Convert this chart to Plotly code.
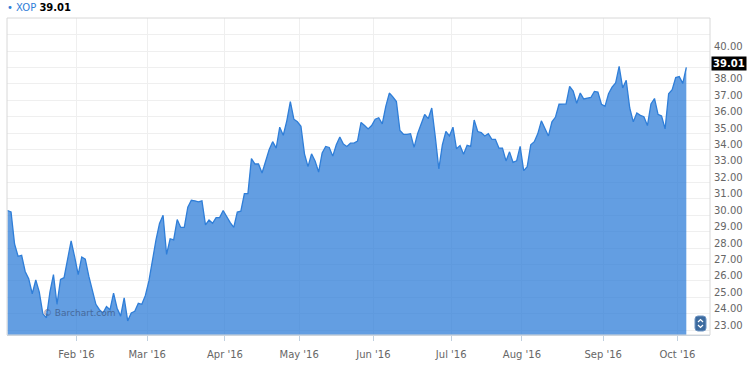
import pandas as pd
import plotly.graph_objects as go

symbol = "XOP"
last_price = 39.01
start_date = "2016-01-04"
end_date = "2016-10-06"
market_holidays = ["2016-01-18", "2016-02-15", "2016-03-25", "2016-05-30", "2016-07-04", "2016-09-05"]

close = [
    30.29, 30.20, 28.25, 27.50, 27.56, 26.58, 26.14, 25.22, 26.06, 25.32,
    24.00, 23.76, 25.32, 26.39, 24.58, 26.10, 26.20, 27.27, 28.44, 27.46,
    26.39, 27.46, 27.33, 26.29, 25.51, 24.58, 24.25, 24.05, 24.44, 24.25,
    25.26, 24.34, 23.86, 24.97, 23.57, 24.05, 24.15, 24.64, 24.58, 25.12,
    26.00, 27.30, 28.50, 29.50, 30.00, 27.62, 28.57, 28.50, 29.74, 29.26,
    29.26, 30.49, 30.91, 30.88, 30.82, 30.88, 29.42, 29.71, 29.51, 29.86,
    29.86, 30.29, 29.90, 29.55, 29.26, 30.19, 30.25, 31.32, 31.32, 33.45,
    33.12, 33.12, 32.57, 33.21, 33.99, 34.48, 34.09, 35.36, 34.87, 35.75,
    36.92, 35.85, 35.69, 35.42, 33.74, 32.96, 33.74, 33.31, 32.63, 33.80,
    34.19, 34.13, 33.60, 34.29, 34.77, 34.33, 34.19, 34.39, 34.39, 34.52,
    35.65, 35.46, 35.26, 35.46, 35.85, 35.94, 35.56, 36.63, 37.44, 37.21,
    36.92, 35.16, 34.93, 34.93, 34.97, 34.13, 34.97, 35.56, 36.14, 35.88,
    36.53, 34.77, 32.82, 34.29, 35.10, 34.83, 35.36, 34.05, 34.24, 33.72,
    34.26, 34.19, 35.80, 35.10, 35.03, 34.83, 34.97, 34.62, 34.62, 34.09,
    34.09, 33.31, 33.86, 33.22, 33.31, 34.19, 32.72, 32.96, 34.29, 34.48,
    34.97, 35.75, 35.30, 34.83, 35.69, 35.98, 36.76, 36.76, 36.78, 37.84,
    37.56, 36.82, 37.44, 37.08, 37.11, 37.17, 37.54, 37.50, 36.76, 36.63,
    37.40, 37.80, 38.05, 39.06, 37.75, 38.22, 36.53, 35.69, 36.23, 36.08,
    36.00, 35.46, 36.78, 37.11, 36.14, 36.04, 35.26, 37.40, 37.64, 38.38,
    38.44, 38.03, 39.01,
]

y_tick_values = list(range(23, 42))
y_tick_hidden = [39, 41]

# trading days (ordinal axis: one slot per session)
dates = [d for d in pd.bdate_range(start_date, end_date)
         if d.strftime("%Y-%m-%d") not in market_holidays]
assert len(dates) == len(close), (len(dates), len(close))
idx = list(range(len(close)))

tick_pos, tick_text = [], []
for i, d in enumerate(dates):
    if i > 0 and d.month != dates[i - 1].month:
        tick_pos.append(i + 0.5)
        tick_text.append(d.strftime("%b '%y"))

y_tick_text = ["" if v in y_tick_hidden else f"{v:.2f}" for v in y_tick_values]

FONT = "DejaVu Sans"
LINE = "#2f7ed8"

fig = go.Figure()
fig.add_trace(go.Scatter(
    x=idx, y=close, mode="lines",
    line=dict(color=LINE, width=1.3),
    fill="tozeroy", fillcolor="rgba(47,126,216,0.75)",
    hoverinfo="skip", showlegend=False,
))

fig.update_layout(
    width=750, height=367, autosize=False,
    margin=dict(l=7, r=38, t=18, b=19),
    paper_bgcolor="white", plot_bgcolor="white",
    showlegend=False,
    xaxis=dict(
        range=[-0.14, 198.7], tickmode="array", tickvals=tick_pos, ticktext=tick_text,
        showgrid=True, gridcolor="#efefef", gridwidth=1, zeroline=False,
        ticks="outside", ticklen=5, tickcolor="#c0d0e0",
        showline=True, linecolor="#c0d0e0", linewidth=1,
        ticklabelstandoff=5,
        tickfont=dict(family=FONT, size=10, color="#666666"),
    ),
    yaxis=dict(
        side="right", range=[22.71, 42.01], tickmode="array",
        tickvals=y_tick_values, ticktext=y_tick_text,
        showgrid=True, gridcolor="#efefef", gridwidth=1, zeroline=False,
        ticks="", showline=False, ticklabelshift=-5, ticklabelstandoff=3,
        tickfont=dict(family=FONT, size=10, color="#666666"),
    ),
)

# plot frame
fig.add_shape(type="rect", xref="paper", yref="paper", x0=0, x1=1, y0=0, y1=1,
              line=dict(color="#d8d8d8", width=1), layer="above")

# legend line
fig.add_annotation(
    xref="paper", yref="paper", x=0, xshift=-2, y=1, yshift=10.5,
    xanchor="left", yanchor="middle", showarrow=False,
    text=f"<span style='color:{LINE}'>\u2022 {symbol}</span> <b>{last_price:.2f}</b>",
    font=dict(family=FONT, size=10, color="#000000"),
)

# last price marker on the axis
fig.add_annotation(
    xref="paper", yref="y", x=1, xshift=1, y=last_price, yshift=4,
    xanchor="left", yanchor="middle", showarrow=False,
    text=f"<b>{last_price:.2f}</b>", bgcolor="#000000", borderpad=1,
    font=dict(family=FONT, size=10, color="#ffffff"),
)

# watermark
fig.add_annotation(
    xref="paper", yref="paper", x=0, xshift=34, y=0, yshift=22,
    xanchor="left", yanchor="middle", showarrow=False,
    text="\u00a9 Barchart.com",
    font=dict(family=FONT, size=9, color="#46699a"),
)

# scroll/zoom control (decoration)
fig.add_shape(
    type="path", xref="x domain", yref="y domain",
    xsizemode="pixel", ysizemode="pixel", xanchor=1, yanchor=0,
    path="M -15,7 Q -15,4 -12,4 L -7,4 Q -4,4 -4,7 L -4,16 Q -4,19 -7,19 L -12,19 Q -15,19 -15,16 Z",
    fillcolor="#3d6b9f", line=dict(color="#6f95c2", width=1), layer="above",
)
fig.add_shape(
    type="path", xref="x domain", yref="y domain",
    xsizemode="pixel", ysizemode="pixel", xanchor=1, yanchor=0,
    path="M -12,13 L -9.5,15.5 L -7,13 M -12,10 L -9.5,7.5 L -7,10",
    line=dict(color="#ffffff", width=1.2), layer="above",
)

fig.write_html("out.html")
